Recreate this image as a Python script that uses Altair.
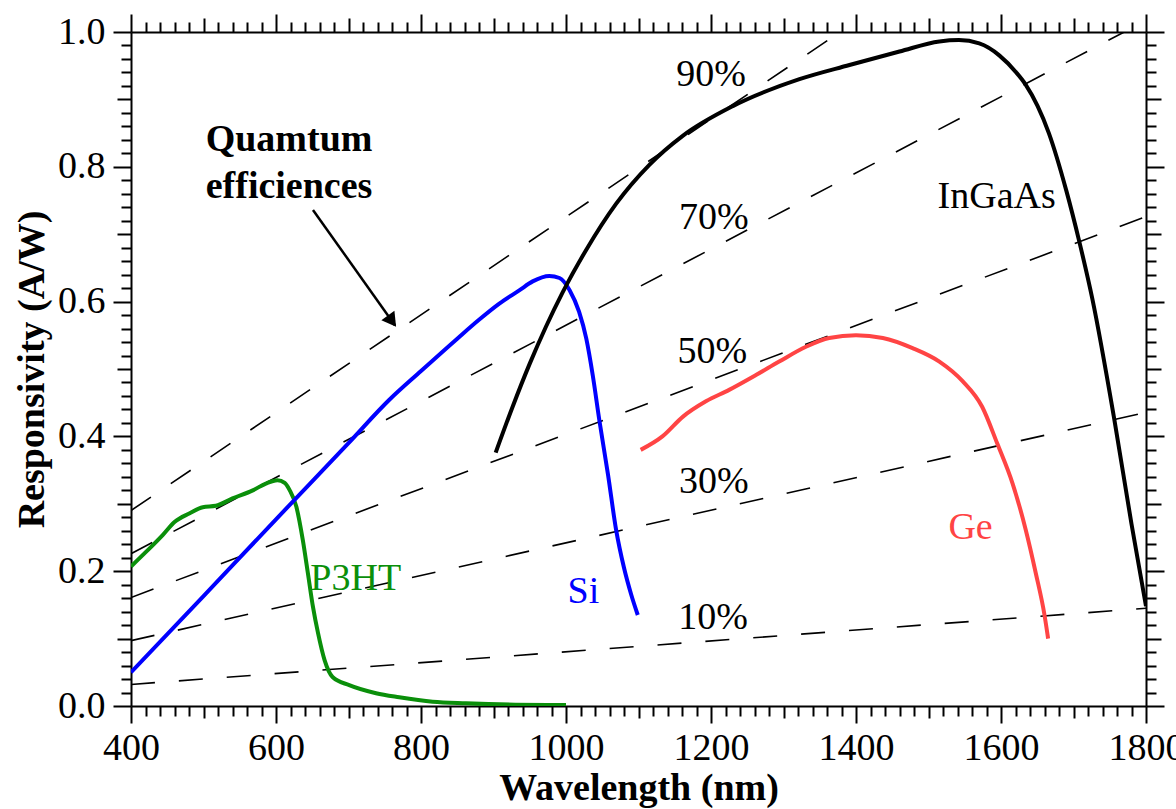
import altair as alt
import pandas as pd

# ---- curves ----
p3ht_wl = [400, 421, 444, 460, 481, 499, 517, 540, 568, 586, 602, 612, 619, 628, 637, 644, 651, 658, 667, 678, 701, 738, 770, 816, 862, 930, 1000]
p3ht_r = [0.207, 0.229, 0.254, 0.273, 0.286, 0.295, 0.297, 0.308, 0.320, 0.330, 0.335, 0.331, 0.320, 0.296, 0.246, 0.197, 0.147, 0.108, 0.068, 0.043, 0.031, 0.019, 0.013, 0.0064, 0.004, 0.002, 0.0015]

si_wl = [400, 500, 600, 700, 756, 800, 850, 880, 908, 936, 954, 977, 991, 1005, 1018, 1028, 1037, 1046, 1058, 1069, 1080, 1090, 1099]
si_r = [0.050, 0.163, 0.277, 0.390, 0.454, 0.497, 0.545, 0.573, 0.597, 0.617, 0.630, 0.638, 0.635, 0.617, 0.585, 0.545, 0.490, 0.424, 0.343, 0.262, 0.205, 0.165, 0.135]

ingaas_wl = [903, 926, 950, 972, 995, 1028, 1069, 1115, 1161, 1230, 1322, 1391, 1460, 1515, 1542, 1570, 1598, 1621, 1634, 1666, 1690, 1708, 1726, 1756, 1780, 1800]
ingaas_r = [0.376, 0.443, 0.508, 0.562, 0.613, 0.677, 0.745, 0.803, 0.846, 0.890, 0.930, 0.951, 0.971, 0.986, 0.988, 0.983, 0.965, 0.940, 0.922, 0.850, 0.765, 0.689, 0.604, 0.427, 0.270, 0.148]

ge_wl = [1103, 1133, 1161, 1193, 1225, 1262, 1294, 1331, 1363, 1400, 1437, 1478, 1515, 1547, 1574, 1595, 1616, 1634, 1648, 1660, 1665]
ge_r = [0.380, 0.400, 0.429, 0.452, 0.469, 0.491, 0.511, 0.533, 0.546, 0.550, 0.546, 0.531, 0.511, 0.482, 0.444, 0.389, 0.330, 0.262, 0.197, 0.135, 0.100]

series_names = ["P3HT", "Si", "InGaAs", "Ge"]
series_colors = ["#0a8f0a", "#0000ff", "#000000", "#ff4444"]

# ---- quantum-efficiency guide lines (end points) ----
qe_names = ["90%", "70%", "50%", "30%", "10%"]
qe_wl_start = [400, 400, 400, 400, 400]
qe_r_start = [0.290, 0.226, 0.161, 0.097, 0.032]
qe_wl_end = [1378, 1770, 1800, 1800, 1800]
qe_r_end = [1.0, 1.0, 0.726, 0.4355, 0.145]

# ---- text annotations ----
qe_label_wl = [1200, 1204, 1202, 1204, 1203]
qe_label_r = [0.936, 0.724, 0.525, 0.332, 0.130]

curve_label_text = ["P3HT", "Si", "InGaAs", "Ge"]
curve_label_wl = [710, 1024, 1594, 1558]
curve_label_r = [0.188, 0.169, 0.755, 0.264]

note_lines = ["Quamtum", "efficiences"]
note_wl = [618, 618]
note_r = [0.840, 0.770]

arrow_wl = [651, 764]
arrow_r = [0.736, 0.565]
arrow_head_wl = [760]
arrow_head_r = [0.571]

x_tick_values = list(range(400, 1801, 20))
y_tick_values = [round(i * 0.02, 2) for i in range(51)]

FONT = "Liberation Serif"

curves = pd.concat([
    pd.DataFrame({"wl": p3ht_wl, "r": p3ht_r, "s": "P3HT"}),
    pd.DataFrame({"wl": si_wl, "r": si_r, "s": "Si"}),
    pd.DataFrame({"wl": ingaas_wl, "r": ingaas_r, "s": "InGaAs"}),
    pd.DataFrame({"wl": ge_wl, "r": ge_r, "s": "Ge"}),
], ignore_index=True)

qe_rows = []
for n, a, b, c, d in zip(qe_names, qe_wl_start, qe_r_start, qe_wl_end, qe_r_end):
    qe_rows.append({"wl": a, "r": b, "q": n})
    qe_rows.append({"wl": c, "r": d, "q": n})
qe_df = pd.DataFrame(qe_rows)

xscale = alt.Scale(domain=[400, 1800], nice=False, zero=False)
yscale = alt.Scale(domain=[0, 1.0], nice=False, zero=False)

x_major = "datum.value % 200 === 0"
x_mid = "datum.value % 100 === 0"
y_major = "round(datum.value * 100) % 20 === 0"
y_mid = "round(datum.value * 100) % 10 === 0"

common_axis = dict(
    domainColor="black", domainWidth=2, tickColor="black", tickWidth=2,
    grid=False, labelOverlap=False, labelFlush=False, labelFont=FONT, labelFontSize=38,
    labelColor="black", titleFont=FONT, titleFontSize=38, titleFontWeight="bold",
    titleColor="black",
)

x_axis_bottom = alt.Axis(
    orient="bottom", values=x_tick_values, title="Wavelength (nm)",
    labelExpr=f"{x_major} ? datum.label : ''", format="d",
    tickSize={"condition": [{"test": x_major, "value": 17}, {"test": x_mid, "value": 12}], "value": 10},
    labelPadding=6, titlePadding=2, **common_axis,
)
y_axis_left = alt.Axis(
    orient="left", values=y_tick_values, title="Responsivity (A/W)",
    labelExpr=f"{y_major} ? format(datum.value, '.1f') : ''",
    tickSize={"condition": [{"test": y_major, "value": 18}, {"test": y_mid, "value": 14}], "value": 10},
    labelPadding=8, titlePadding=6, **common_axis,
)
x_axis_top = alt.Axis(
    orient="top", values=x_tick_values, title=None, labels=False,
    tickSize={"condition": [{"test": x_major, "value": 18}, {"test": x_mid, "value": 14}], "value": 10},
    **common_axis,
)
y_axis_right = alt.Axis(
    orient="right", values=y_tick_values, title=None, labels=False,
    tickSize={"condition": [{"test": y_major, "value": 18}, {"test": y_mid, "value": 15}], "value": 10},
    **common_axis,
)

curve_layer = alt.Chart(curves).mark_line(strokeWidth=4, interpolate="monotone", clip=True).encode(
    x=alt.X("wl:Q", scale=xscale, axis=x_axis_bottom),
    y=alt.Y("r:Q", scale=yscale, axis=y_axis_left),
    color=alt.Color("s:N", scale=alt.Scale(domain=series_names, range=series_colors), legend=None),
    detail="s:N",
)

qe_layer = alt.Chart(qe_df).mark_line(strokeWidth=1.6, strokeDash=[24, 24], color="black", clip=True).encode(
    x=alt.X("wl:Q", scale=xscale, axis=x_axis_top),
    y=alt.Y("r:Q", scale=yscale, axis=y_axis_right),
    detail="q:N",
)

qe_text = alt.Chart(pd.DataFrame({"wl": qe_label_wl, "r": qe_label_r, "t": qe_names})).mark_text(
    font=FONT, fontSize=38, color="black", align="center", baseline="middle"
).encode(
    x=alt.X("wl:Q", scale=xscale, axis=None),
    y=alt.Y("r:Q", scale=yscale, axis=None),
    text="t:N",
)

curve_text = alt.Chart(pd.DataFrame({"wl": curve_label_wl, "r": curve_label_r, "t": curve_label_text})).mark_text(
    font=FONT, fontSize=38, align="center", baseline="middle"
).encode(
    x=alt.X("wl:Q", scale=xscale, axis=None),
    y=alt.Y("r:Q", scale=yscale, axis=None),
    text="t:N",
    color=alt.Color("t:N", scale=alt.Scale(domain=series_names, range=series_colors), legend=None),
)

note_text = alt.Chart(pd.DataFrame({"wl": note_wl, "r": note_r, "t": note_lines})).mark_text(
    font=FONT, fontSize=38, fontWeight="bold", color="black", align="center", baseline="middle"
).encode(
    x=alt.X("wl:Q", scale=xscale, axis=None),
    y=alt.Y("r:Q", scale=yscale, axis=None),
    text="t:N",
)

arrow_line = alt.Chart(pd.DataFrame({"wl": arrow_wl, "r": arrow_r})).mark_line(
    color="black", strokeWidth=2.5
).encode(
    x=alt.X("wl:Q", scale=xscale, axis=None),
    y=alt.Y("r:Q", scale=yscale, axis=None),
)

arrow_head = alt.Chart(pd.DataFrame({"wl": arrow_head_wl, "r": arrow_head_r})).mark_point(
    shape="triangle-up", filled=True, color="black", size=260, angle=144, opacity=1
).encode(
    x=alt.X("wl:Q", scale=xscale, axis=None),
    y=alt.Y("r:Q", scale=yscale, axis=None),
)

chart = alt.layer(
    qe_layer, curve_layer, qe_text, curve_text, note_text, arrow_line, arrow_head
).resolve_axis(
    x="independent", y="independent"
).properties(
    width=1015, height=674,
    autosize=alt.AutoSizeParams(type="none"),
    padding={"left": 131, "top": 32, "right": 30, "bottom": 103},
    background="white",
).configure_view(stroke=None)

chart.save("out.html", embed_options={"renderer": "svg", "actions": False})
